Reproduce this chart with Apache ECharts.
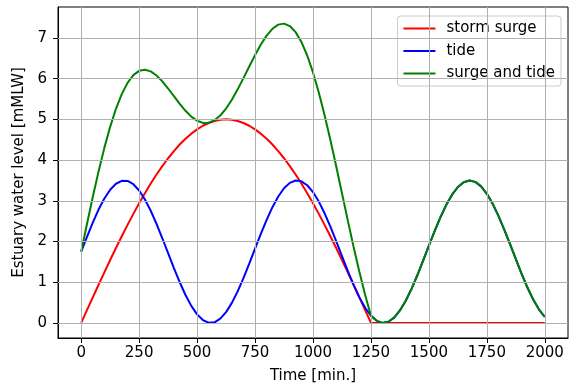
<!DOCTYPE html>
<html>
<head>
<meta charset="utf-8">
<script src="https://cdn.jsdelivr.net/npm/echarts@6/dist/echarts.min.js"></script>
<style>
html,body{margin:0;padding:0;background:#fff;}
#c{width:585px;height:389px;}
</style>
</head>
<body>
<div id="c"></div>
<script>
// Time [min.] sampled every 25 min
const time = [0,25,50,75,100,125,150,175,200,225,250,275,300,325,350,375,400,425,450,475,500,525,550,575,600,625,650,675,700,725,750,775,800,825,850,875,900,925,950,975,1000,1025,1050,1075,1100,1125,1150,1175,1200,1225,1250,1275,1300,1325,1350,1375,1400,1425,1450,1475,1500,1525,1550,1575,1600,1625,1650,1675,1700,1725,1750,1775,1800,1825,1850,1875,1900,1925,1950,1975,2000];
const stormSurge = [0,0.314,0.627,0.937,1.243,1.545,1.841,2.129,2.409,2.679,2.939,3.187,3.423,3.645,3.852,4.045,4.222,4.382,4.524,4.649,4.755,4.843,4.911,4.961,4.990,5.000,4.990,4.961,4.911,4.843,4.755,4.649,4.524,4.382,4.222,4.045,3.852,3.645,3.423,3.187,2.939,2.679,2.409,2.129,1.841,1.545,1.243,0.937,0.627,0.314,0,
  0,0,0,0,0,0,0,0,0,0,0,0,0,0,0,0,0,0,0,0,0,0,0,0,0,0,0,0,0,0];
const tide = [1.75,2.116,2.466,2.785,3.057,3.272,3.419,3.492,3.488,3.407,3.253,3.032,2.755,2.432,2.080,1.713,1.348,1.000,0.686,0.419,0.210,0.070,0.005,0.016,0.105,0.266,0.493,0.776,1.102,1.456,1.824,2.188,2.533,2.843,3.105,3.307,3.440,3.498,3.478,3.382,3.214,2.981,2.693,2.364,2.007,1.639,1.276,0.934,0.628,0.372,0.177,
  0.051,0.001,0.028,0.131,0.306,0.545,0.838,1.171,1.529,1.897,2.259,2.598,2.900,3.150,3.339,3.457,3.500,3.465,3.354,3.172,2.927,2.630,2.294,1.934,1.566,1.206,0.870,0.573,0.328,0.146];
const surgeAndTide = [1.75,2.430,3.093,3.722,4.300,4.817,5.260,5.621,5.897,6.086,6.192,6.219,6.178,6.077,5.932,5.758,5.570,5.382,5.210,5.068,4.965,4.913,4.916,4.977,5.095,5.266,5.483,5.737,6.013,6.299,6.579,6.837,7.057,7.225,7.327,7.352,7.292,7.143,6.901,6.569,6.153,5.660,5.102,4.493,3.848,3.184,2.519,1.871,1.255,0.686,0.177,
  0.051,0.001,0.028,0.131,0.306,0.545,0.838,1.171,1.529,1.897,2.259,2.598,2.900,3.150,3.339,3.457,3.500,3.465,3.354,3.172,2.927,2.630,2.294,1.934,1.566,1.206,0.870,0.573,0.328,0.146];
const xTicks = [0,250,500,750,1000,1250,1500,1750,2000];
const yTicks = [0,1,2,3,4,5,6,7];
const seriesNames = ['storm surge','tide','surge and tide'];
const colors = ['#ff0000','#0000ff','#008000'];

const pairs = arr => time.map((t,i)=>[t,arr[i]]);
const font = 'DejaVu Sans';
const fs = 15;
const gridLines = xTicks.map(v=>({xAxis:v})).concat(yTicks.map(v=>({yAxis:v})));
const chart = echarts.init(document.getElementById('c'));
chart.setOption({
  animation:false,
  backgroundColor:'#fff',
  grid:{left:58,right:17,top:7,bottom:51,show:true,borderColor:'#000',borderWidth:1,backgroundColor:'transparent'},
  legend:{
    orient:'vertical',right:24,top:16,
    itemWidth:32,itemHeight:2,itemGap:7.5,icon:'rect',
    padding:[5,6,5,6],
    backgroundColor:'rgba(255,255,255,0.8)',borderColor:'#cccccc',borderWidth:1,borderRadius:3,
    textStyle:{fontFamily:font,fontSize:fs,lineHeight:15,color:'#000',padding:[0,0,0,6]},
    data:seriesNames
  },
  xAxis:{
    type:'value',min:-100,max:2100,
    name:'Time [min.]',nameLocation:'middle',nameGap:31,
    nameTextStyle:{fontFamily:font,fontSize:fs,color:'#000'},
    axisLine:{show:true,onZero:false,lineStyle:{color:'#000',width:1}},
    axisTick:{show:true,length:5,lineStyle:{color:'#000'},customValues:xTicks},
    axisLabel:{fontFamily:font,fontSize:fs,color:'#000',margin:8,customValues:xTicks,formatter:v=>String(v)},
    splitLine:{show:false}
  },
  yAxis:{
    type:'value',min:-0.37,max:7.76,
    name:'Estuary water level [mMLW]',nameLocation:'middle',nameGap:27,nameRotate:90,
    nameTextStyle:{fontFamily:font,fontSize:fs,color:'#000'},
    axisLine:{show:true,onZero:false,lineStyle:{color:'#000',width:1}},
    axisTick:{show:true,length:5,lineStyle:{color:'#000'},customValues:yTicks},
    axisLabel:{fontFamily:font,fontSize:fs,color:'#000',margin:11,customValues:yTicks,formatter:v=>String(v)},
    splitLine:{show:false}
  },
  series:[
    {name:'_grid',type:'line',data:[],z:1,silent:true,
     markLine:{silent:true,symbol:['none','none'],label:{show:false},animation:false,
       lineStyle:{color:'#b0b0b0',width:1,type:'solid'},emphasis:{disabled:true},data:gridLines}},
    {name:seriesNames[0],type:'line',z:3,data:pairs(stormSurge),showSymbol:false,symbol:'none',lineStyle:{color:colors[0],width:2},itemStyle:{color:colors[0]}},
    {name:seriesNames[1],type:'line',z:3,data:pairs(tide),showSymbol:false,symbol:'none',lineStyle:{color:colors[1],width:2},itemStyle:{color:colors[1]}},
    {name:seriesNames[2],type:'line',z:3,data:pairs(surgeAndTide),showSymbol:false,symbol:'none',lineStyle:{color:colors[2],width:2},itemStyle:{color:colors[2]}}
  ]
});
</script>
</body>
</html>
